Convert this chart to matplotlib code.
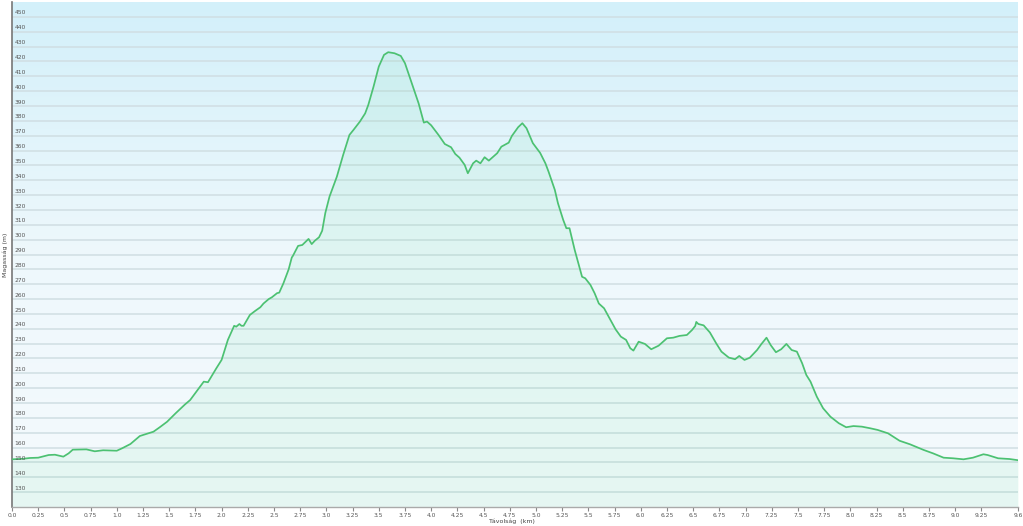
import numpy as np
import matplotlib
matplotlib.use("Agg")
import matplotlib.pyplot as plt
from matplotlib.colors import LinearSegmentedColormap

distance_km = [0.00, 0.11, 0.17, 0.25, 0.35, 0.41, 0.49, 0.54, 0.58, 0.71, 0.79, 0.87, 1.00, 1.05,
               1.13, 1.22, 1.35, 1.41, 1.48, 1.56, 1.65, 1.70, 1.83, 1.87, 1.95, 2.00, 2.06, 2.12,
               2.14, 2.17, 2.19, 2.21, 2.27, 2.32, 2.37, 2.40, 2.45, 2.48, 2.53, 2.55, 2.59, 2.64,
               2.67, 2.68, 2.73, 2.77, 2.83, 2.86, 2.89, 2.93, 2.96, 2.99, 3.03, 3.10, 3.16, 3.22,
               3.26, 3.32, 3.37, 3.40, 3.45, 3.50, 3.55, 3.59, 3.65, 3.71, 3.75, 3.81, 3.88, 3.93,
               3.96, 4.00, 4.07, 4.13, 4.19, 4.23, 4.27, 4.32, 4.35, 4.40, 4.43, 4.47, 4.51, 4.55,
               4.63, 4.67, 4.74, 4.77, 4.83, 4.87, 4.91, 4.97, 5.04, 5.09, 5.12, 5.18, 5.21, 5.26,
               5.29, 5.32, 5.37, 5.44, 5.47, 5.52, 5.56, 5.60, 5.65, 5.71, 5.76, 5.81, 5.86, 5.90,
               5.93, 5.98, 6.04, 6.10, 6.17, 6.25, 6.31, 6.37, 6.44, 6.49, 6.52, 6.53, 6.55, 6.60,
               6.66, 6.72, 6.77, 6.84, 6.90, 6.94, 6.99, 7.04, 7.11, 7.15, 7.20, 7.24, 7.29, 7.34,
               7.39, 7.44, 7.49, 7.54, 7.58, 7.62, 7.68, 7.74, 7.81, 7.89, 7.96, 8.03, 8.11, 8.19,
               8.26, 8.36, 8.47, 8.57, 8.70, 8.79, 8.89, 8.98, 9.08, 9.17, 9.27, 9.31, 9.41, 9.52,
               9.60]

elevation_m = [152.1, 152.5, 153.0, 153.2, 155.0, 155.2, 153.9, 156.1, 158.6, 158.8, 157.5, 158.2,
               157.9, 159.5, 162.4, 167.8, 170.7, 173.7, 177.4, 183.0, 189.0, 192.0, 204.4, 204.0,
               213.4, 219.0, 232.5, 242.0, 241.4, 243.2, 242.0, 242.0, 249.3, 252.0, 254.5, 257.0,
               260.0, 261.2, 264.0, 264.3, 270.6, 280.0, 288.0, 289.0, 295.8, 296.4, 300.5, 297.0,
               299.3, 301.6, 306.0, 318.0, 329.0, 342.4, 357.0, 370.5, 374.0, 379.5, 385.0, 390.7,
               403.0, 416.5, 424.4, 426.2, 425.5, 423.7, 418.8, 406.4, 391.8, 378.8, 379.5, 377.0,
               370.5, 364.4, 362.2, 357.7, 355.2, 350.3, 344.7, 351.4, 353.2, 351.4, 355.5, 353.2,
               358.2, 362.6, 365.3, 369.8, 375.7, 378.4, 375.0, 365.0, 358.4, 351.4, 345.8, 333.5,
               324.5, 313.3, 307.7, 307.7, 293.0, 275.0, 274.0, 269.5, 263.9, 257.0, 253.8, 246.0,
               239.6, 234.7, 232.5, 226.9, 225.3, 231.3, 229.8, 226.2, 228.6, 233.6, 234.0, 235.2,
               235.8, 239.2, 241.9, 244.6, 243.2, 242.3, 237.5, 230.2, 224.6, 220.6, 219.5, 221.7,
               219.0, 220.5, 225.7, 229.6, 234.0, 229.0, 224.2, 226.2, 229.8, 225.7, 224.6, 216.8,
               208.9, 204.4, 194.3, 186.5, 180.8, 176.4, 173.7, 174.5, 174.1, 173.0, 171.9, 169.6,
               164.6, 162.2, 158.4, 156.1, 153.2, 152.8, 152.1, 153.2, 155.5, 155.0, 152.8, 152.3,
               151.5]

y_ticks = list(range(130, 451, 10))
x_ticks = [i * 0.25 for i in range(38)] + [9.6]
x_ticklabels = []
for t in x_ticks:
    s = ("%g" % t)
    if "." not in s:
        s += ".0"
    x_ticklabels.append(s)

W, H = 1023, 526
fig = plt.figure(figsize=(W / 100, H / 100), dpi=100)
fig.patch.set_facecolor("white")
ax = fig.add_axes([12 / W, 19 / H, (1018 - 12) / W, (524 - 19) / H])

ymin, ymax = 120, 460
xmin, xmax = 0, 9.6
ax.set_xlim(xmin, xmax)
ax.set_ylim(ymin, ymax)

# background gradient
cmap = LinearSegmentedColormap.from_list("bg", ["#f5fafd", "#eef8fc", "#d3f0fa"])
grad = np.linspace(0, 1, 256).reshape(-1, 1)
ax.imshow(grad, extent=[xmin, xmax, ymin, ymax], origin="lower", aspect="auto",
          cmap=cmap, zorder=0)

# gridlines
for v in y_ticks:
    ax.axhline(v, color="#d0dee3", lw=1.1, zorder=1)

ax.fill_between(distance_km, elevation_m, ymin, color="#2fd67a", alpha=0.075, lw=0, zorder=2)
ax.plot(distance_km, elevation_m, color="#4cc172", lw=1.25, zorder=3)

# y labels inside plot
for v in y_ticks:
    ax.annotate(str(v), xy=(0, v), xycoords=("axes fraction", "data"),
                xytext=(2, 1.0), textcoords="offset points", fontsize=4.3,
                color="#555555", ha="left", va="bottom", zorder=4)
ax.set_yticks([])

ax.set_xticks(x_ticks)
ax.set_xticklabels(x_ticklabels, fontsize=4.3, color="#555555")
ax.tick_params(axis="x", direction="out", length=3, width=0.8, color="#888888", pad=1.2)

for side in ["top", "right"]:
    ax.spines[side].set_visible(False)
ax.spines["left"].set_color("#777777")
ax.spines["left"].set_linewidth(1.2)
ax.spines["bottom"].set_color("#aaaaaa")
ax.spines["bottom"].set_linewidth(1.0)

fig.text(512 / W, 1 - 521 / H, "Távolság  (km)", fontsize=4.5, color="#444444",
         ha="center", va="center")
fig.text(5 / W, 1 - 255 / H, "Magasság (m)", fontsize=4.5, color="#444444",
         ha="center", va="center", rotation=90)

fig.savefig("out.png", dpi=100, facecolor="white")
